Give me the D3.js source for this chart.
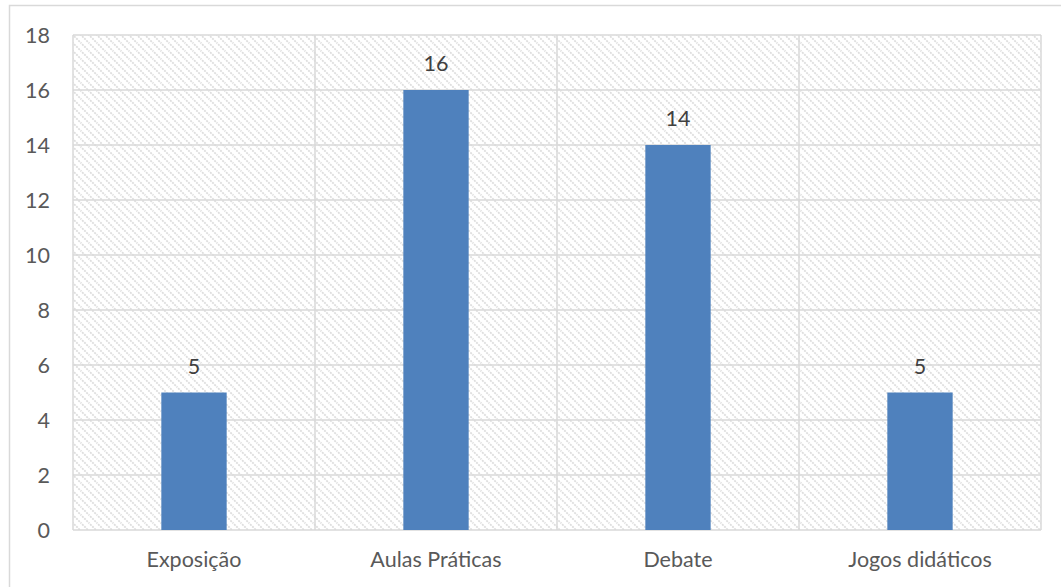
<!DOCTYPE html>
<html>
<head>
<meta charset="utf-8">
<script src="https://d3js.org/d3.v7.min.js"></script>
<style>
  body { margin: 0; background: #fff; }
  svg { display: block; font-family: Lato, "Open Sans", sans-serif; }
</style>
</head>
<body>
<svg id="chart" width="1061" height="587"></svg>
<script>
  // data
  const categories = ["Exposição", "Aulas Práticas", "Debate", "Jogos didáticos"];
  const values = [5, 16, 14, 5];
  const yTicks = [0, 2, 4, 6, 8, 10, 12, 14, 16, 18];

  const svg = d3.select("#chart");
  const margin = { left: 73, top: 35, right: 20, bottom: 57 };
  const width = 1061 - margin.left - margin.right;
  const height = 587 - margin.top - margin.bottom;

  // hatch pattern for plot background
  const defs = svg.append("defs");
  const pat = defs.append("pattern")
      .attr("id", "hatch")
      .attr("patternUnits", "userSpaceOnUse")
      .attr("width", 8).attr("height", 8);
  pat.append("path")
      .attr("d", "M-1,-1 L9,9 M-5,3 L5,13 M3,-5 L13,5")
      .attr("stroke", "#dedede")
      .attr("stroke-width", 1.8)
      .attr("stroke-dasharray", "2,1");

  // outer chart border
  svg.append("rect")
      .attr("x", 9.5).attr("y", 5.5)
      .attr("width", 1200).attr("height", 800)
      .attr("fill", "none")
      .attr("stroke", "#d9d9d9")
      .attr("stroke-width", 1.5);

  const g = svg.append("g").attr("transform", `translate(${margin.left},${margin.top})`);

  const x = d3.scaleBand().domain(categories).range([0, width]).paddingInner(0).paddingOuter(0);
  const y = d3.scaleLinear().domain([0, 18]).range([height, 0]);

  g.append("rect")
      .attr("width", width).attr("height", height)
      .attr("fill", "url(#hatch)");

  // horizontal gridlines
  g.selectAll(".hgrid").data(yTicks).enter().append("line")
      .attr("x1", 0).attr("x2", width)
      .attr("y1", d => y(d)).attr("y2", d => y(d))
      .attr("stroke", "#d9d9d9").attr("stroke-width", 1.5);

  // vertical gridlines at category bounds
  const bounds = categories.map(c => x(c)).concat([width]);
  g.selectAll(".vgrid").data(bounds).enter().append("line")
      .attr("x1", d => d).attr("x2", d => d)
      .attr("y1", 0).attr("y2", height)
      .attr("stroke", "#d9d9d9").attr("stroke-width", 1.5);

  // y axis labels
  g.selectAll(".ylab").data(yTicks).enter().append("text")
      .attr("x", -23).attr("y", d => y(d))
      .attr("dy", "0.35em")
      .attr("text-anchor", "end")
      .attr("fill", "#595959")
      .attr("font-size", 21.5)
      .text(d => d);

  // bars
  const bw = x.bandwidth() * 0.27;
  g.selectAll(".bar").data(values).enter().append("rect")
      .attr("x", (d, i) => x(categories[i]) + (x.bandwidth() - bw) / 2)
      .attr("y", d => y(d))
      .attr("width", bw)
      .attr("height", d => y(0) - y(d))
      .attr("fill", "#4f81bd");

  // data labels
  g.selectAll(".dlab").data(values).enter().append("text")
      .attr("x", (d, i) => x(categories[i]) + x.bandwidth() / 2)
      .attr("y", d => y(d) - 19)
      .attr("text-anchor", "middle")
      .attr("fill", "#404040")
      .attr("font-size", 21.5)
      .text(d => d);

  // category labels
  g.selectAll(".xlab").data(categories).enter().append("text")
      .attr("x", d => x(d) + x.bandwidth() / 2)
      .attr("y", height + 37)
      .attr("text-anchor", "middle")
      .attr("fill", "#595959")
      .attr("font-size", 21.5)
      .text(d => d);
</script>
</body>
</html>
